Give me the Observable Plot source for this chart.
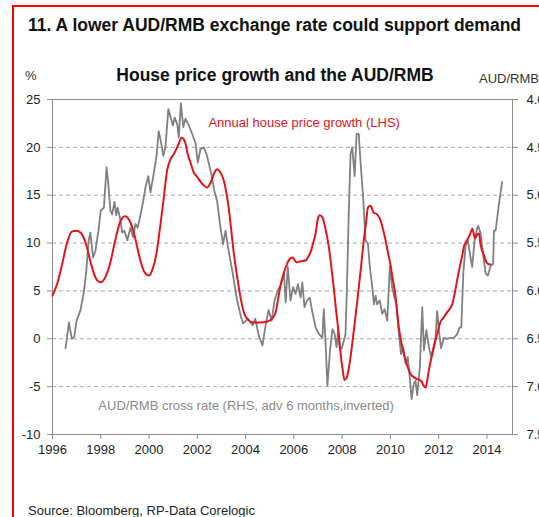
<!DOCTYPE html>
<html><head><meta charset="utf-8">
<script src="https://cdn.jsdelivr.net/npm/d3@7"></script>
<script src="https://cdn.jsdelivr.net/npm/@observablehq/plot@0.6"></script>
<style>
html,body{margin:0;padding:0;overflow:hidden;background:#fff;width:539px;height:517px}
#box{position:absolute;left:12px;top:5px;width:700px;height:700px;border:2px solid #ff0000;box-sizing:border-box}
#chart{position:absolute;left:0;top:40px;width:560px;height:424px}
#chart svg{max-width:none !important;width:560px;height:424px;display:block}
#txt{position:absolute;left:0;top:0}
</style></head><body>
<div id="box"></div>
<div id="chart"></div>
<svg id="txt" width="560" height="517" font-family="'Liberation Sans', Arial, sans-serif">
  <text x="28" y="31" font-size="17.5" font-weight="bold" fill="#111">11. A lower AUD/RMB exchange rate could support demand</text>
  <text x="275" y="81" font-size="17.5" font-weight="bold" fill="#111" text-anchor="middle">House price growth and the AUD/RMB</text>
  <text x="25" y="80" font-size="13" fill="#333">%</text>
  <text x="479" y="83" font-size="13" fill="#333">AUD/RMB</text>
  <text x="28" y="515" font-size="13" fill="#222">Source: Bloomberg, RP-Data Corelogic</text>
</svg>
<script>
// House price growth, % y/y (LHS)
const hpYears = [1996.0,1996.2,1996.4,1996.6,1996.8,1997.0,1997.2,1997.4,1997.6,1997.8,1998.0,1998.2,1998.4,1998.6,1998.8,1999.0,1999.2,1999.4,1999.6,1999.8,2000.0,2000.15,2000.3,2000.45,2000.6,2000.75,2000.9,2001.05,2001.2,2001.35,2001.5,2001.6,2001.72,2001.85,2002.0,2002.2,2002.4,2002.55,2002.7,2002.82,2002.95,2003.1,2003.2,2003.3,2003.4,2003.5,2003.65,2003.8,2003.95,2004.1,2004.3,2004.6,2004.9,2005.1,2005.25,2005.35,2005.45,2005.6,2005.73,2005.85,2005.95,2006.1,2006.3,2006.5,2006.6,2006.7,2006.8,2006.9,2007.0,2007.07,2007.18,2007.3,2007.45,2007.55,2007.65,2007.75,2007.86,2007.95,2008.02,2008.1,2008.2,2008.35,2008.5,2008.63,2008.77,2008.9,2009.0,2009.07,2009.18,2009.3,2009.45,2009.6,2009.7,2009.8,2009.9,2010.0,2010.1,2010.2,2010.35,2010.45,2010.56,2010.67,2010.77,2010.87,2010.97,2011.1,2011.2,2011.3,2011.38,2011.46,2011.53,2011.6,2011.7,2011.8,2011.95,2012.08,2012.2,2012.3,2012.45,2012.56,2012.63,2012.7,2012.8,2012.9,2013.0,2013.05,2013.18,2013.3,2013.4,2013.5,2013.6,2013.67,2013.74,2013.88,2013.98,2014.08,2014.15];
const hpGrowth = [4.5,5.8,7.8,10.0,11.2,11.3,11.0,9.8,7.8,6.3,5.9,6.5,8.0,10.3,12.2,12.8,12.3,10.8,8.6,7.0,6.6,7.3,8.8,11.5,14.5,17.6,18.8,19.4,20.2,21.0,20.5,19.3,18.4,17.4,16.9,16.2,15.8,16.3,17.3,17.7,17.4,16.5,15.3,13.7,11.5,9.2,6.5,4.2,2.6,2.0,1.7,1.7,1.8,2.1,2.8,4.2,5.6,7.0,7.9,8.4,8.5,8.0,8.1,8.2,8.6,9.1,10.0,11.0,12.6,12.9,12.7,11.6,9.6,7.6,5.4,3.0,0.5,-1.8,-3.2,-4.3,-4.0,-1.9,1.2,4.0,7.2,10.3,12.3,13.7,13.9,13.2,13.0,12.3,11.4,10.3,9.0,7.8,6.2,4.7,1.2,-0.3,-1.6,-2.6,-3.3,-3.8,-4.0,-4.2,-4.3,-4.5,-4.9,-5.1,-4.3,-3.2,-2.0,-0.9,0.6,1.8,2.2,2.6,3.1,3.6,4.3,5.2,6.6,7.8,9.0,9.7,10.3,10.9,11.5,10.5,10.9,11.0,9.8,8.7,8.0,7.8,7.8];

// AUD/RMB cross rate, advanced 6 months (RHS, inverted)
const fxYears = [1996.54,1996.68,1996.8,1996.9,1997.0,1997.16,1997.3,1997.4,1997.5,1997.57,1997.68,1997.78,1997.92,1998.0,1998.13,1998.24,1998.3,1998.4,1998.47,1998.57,1998.64,1998.7,1998.79,1998.89,1998.98,1999.1,1999.23,1999.34,1999.44,1999.53,1999.65,1999.76,1999.85,1999.97,2000.06,2000.17,2000.31,2000.4,2000.5,2000.59,2000.68,2000.8,2000.9,2000.99,2001.06,2001.17,2001.23,2001.32,2001.42,2001.51,2001.65,2001.79,2001.93,2002.02,2002.13,2002.27,2002.38,2002.47,2002.6,2002.7,2002.82,2002.96,2003.07,2003.17,2003.27,2003.45,2003.65,2003.8,2003.9,2004.1,2004.3,2004.4,2004.55,2004.7,2004.83,2004.95,2005.08,2005.2,2005.33,2005.45,2005.59,2005.66,2005.75,2005.86,2005.97,2006.07,2006.17,2006.28,2006.35,2006.44,2006.55,2006.66,2006.76,2006.9,2007.04,2007.18,2007.24,2007.32,2007.39,2007.5,2007.6,2007.69,2007.77,2007.83,2007.91,2008.0,2008.14,2008.2,2008.27,2008.35,2008.42,2008.52,2008.6,2008.69,2008.76,2008.87,2008.97,2009.07,2009.15,2009.25,2009.32,2009.39,2009.45,2009.56,2009.66,2009.76,2009.87,2009.98,2010.07,2010.17,2010.25,2010.34,2010.44,2010.53,2010.63,2010.72,2010.8,2010.88,2010.97,2011.04,2011.11,2011.22,2011.32,2011.39,2011.49,2011.6,2011.69,2011.78,2011.87,2011.94,2012.01,2012.1,2012.21,2012.35,2012.49,2012.63,2012.77,2012.87,2012.94,2013.02,2013.11,2013.21,2013.32,2013.39,2013.49,2013.6,2013.64,2013.74,2013.82,2013.95,2014.04,2014.15,2014.26,2014.29,2014.36,2014.5,2014.63];
const fxRate = [6.60,6.33,6.50,6.48,6.31,6.20,6.01,5.79,5.47,5.39,5.65,5.58,5.34,5.16,5.13,4.71,4.85,5.16,5.20,5.07,5.21,5.13,5.23,5.39,5.37,5.47,5.34,5.44,5.30,5.34,5.20,5.06,4.92,4.80,4.97,4.81,4.59,4.33,4.45,4.59,4.50,4.10,4.19,4.27,4.19,4.26,4.40,4.04,4.29,4.20,4.27,4.36,4.46,4.66,4.52,4.50,4.57,4.66,4.80,4.95,5.06,5.34,5.51,5.37,5.54,5.79,6.10,6.26,6.34,6.29,6.36,6.29,6.47,6.57,6.36,6.20,6.31,6.10,6.00,5.94,5.82,6.12,5.75,6.10,5.96,6.03,5.93,6.07,5.91,6.17,6.10,6.07,6.21,6.38,6.45,6.49,6.19,6.57,6.99,6.62,6.40,6.45,6.59,6.41,6.62,6.59,6.45,5.96,5.23,4.57,4.50,4.80,4.36,4.36,4.64,5.02,5.47,5.51,5.75,5.96,6.14,6.05,6.14,6.10,6.24,6.19,6.31,5.74,5.96,6.07,6.14,6.41,6.66,6.59,6.76,6.69,6.90,7.13,6.97,6.94,7.09,6.80,6.17,6.62,6.41,6.59,6.69,6.59,6.49,6.21,6.41,6.60,6.49,6.50,6.49,6.49,6.45,6.38,6.38,5.82,5.54,5.47,5.65,5.75,5.47,5.34,5.32,5.40,5.58,5.82,5.84,5.74,5.72,5.37,5.37,5.09,4.86];

const yearTicks = [1996,1998,2000,2002,2004,2006,2008,2010,2012,2014];
const lhsTicks = [-10,-5,0,5,10,15,20,25];
const rhsTicks = [4.0,4.5,5.0,5.5,6.0,6.5,7.0,7.5];
const gridValues = [-5,0,5,10,15,20];

// The RHS axis is inverted and aligned so that 4.0 sits at 25% and 7.5 at -10%
const rateToLhs = r => 65 - 10 * r;
const rhsLabel = new Map(rhsTicks.map(r => [rateToLhs(r), r.toFixed(1)]));

const hp = hpYears.map((year, i) => ({year, growth: hpGrowth[i]}));
const fx = fxYears.map((year, i) => ({year, lhs: rateToLhs(fxRate[i])}));

const RED = "#e2141c";
const GREY = "#808080";
const AX = "#8c8c8c";

const chart = Plot.plot({
  width: 560,
  height: 424,
  marginLeft: 52,
  marginRight: 48,
  marginTop: 59,
  marginBottom: 30,
  x: {domain: [1996, 2015.06], label: null},
  y: {domain: [-10, 25], label: null},
  style: {fontFamily: "'Liberation Sans', Arial, sans-serif", fontSize: "13px", color: "#222", background: "transparent", maxWidth: "none"},
  marks: [
    Plot.ruleY(gridValues, {stroke: "#a8a8a8", strokeDasharray: "4,3", strokeWidth: 1}),
    Plot.frame({stroke: AX, strokeWidth: 1}),
    Plot.axisX(yearTicks, {tickFormat: d => String(d), tickSize: 5, tickPadding: 5, stroke: AX, fill: "#222", fontSize: 13}),
    Plot.axisY(lhsTicks, {anchor: "left", tickSize: 5, tickPadding: 7, stroke: AX, fill: "#222", fontSize: 13, tickFormat: d => String(d)}),
    Plot.axisY(rhsTicks.map(rateToLhs), {anchor: "right", tickSize: 5, tickPadding: 9, stroke: AX, fill: "#222", fontSize: 13, tickFormat: d => rhsLabel.get(d)}),
    Plot.line(fx, {x: "year", y: "lhs", stroke: GREY, strokeWidth: 1.8, strokeLinejoin: "round"}),
    Plot.line(hp, {x: "year", y: "growth", stroke: RED, strokeWidth: 2, curve: "monotone-x", strokeLinejoin: "round"}),
    Plot.text(["Annual house price growth (LHS)"], {x: 2002.46, y: 22.6, text: d => d, textAnchor: "start", fill: RED, fontSize: 13}),
    Plot.text(["AUD/RMB cross rate (RHS, adv 6 months,inverted)"], {x: 1997.9, y: -7.0, text: d => d, textAnchor: "start", fill: "#8a8a8a", fontSize: 13})
  ]
});
document.getElementById("chart").appendChild(chart);
</script>
</body></html>
